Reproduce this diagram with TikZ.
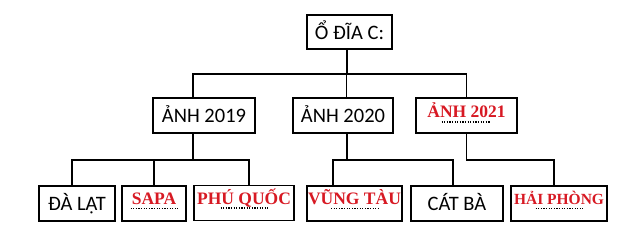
\documentclass[tikz,border=0pt]{standalone}
\usepackage{fontspec}
\setmainfont{Carlito}
\newfontfamily\redserif{Liberation Serif}
\usepackage{xcolor}
\usetikzlibrary{positioning}
\definecolor{typored}{RGB}{215,25,35}
\tikzstyle{folder} = [rectangle, draw=black, line width=1.6pt, minimum height=35pt, inner sep=0pt, text height=14.5pt, text depth=0pt, font=\fontsize{20.5}{22}\selectfont]
\tikzstyle{redfolder} = [folder, text height=8pt, text depth=4.6pt, font=\fontsize{17.5}{19}\redserif\bfseries, text=typored]
\tikzstyle{link} = [line width=1.6pt]
\tikzstyle{dotrule} = [line width=1.3pt, dash pattern=on 1.2pt off 1.4pt]

\begin{document}
\begin{tikzpicture}[x=1pt, y=-1pt]
  \useasboundingbox (0,0) rectangle (637,232);
  \node (root) [folder, minimum width=85pt, minimum height=34pt] at (349.5,32) {Ổ ĐĨA C:};
  % level 2
  \node (a19) [folder, minimum width=102pt] at (204,115.5) {ẢNH 2019};
  \node (a20) [folder, minimum width=100pt] at (343,115.5) {ẢNH 2020};
  \node (a21) [redfolder, minimum width=101pt] at (466.5,115.5) {ẢNH 2021};
  % level 3
  \node (dalat) [folder, minimum width=76pt] at (77,203.5) {ĐÀ LẠT};
  \node (sapa) [redfolder, text depth=5.2pt, minimum width=64pt] at (154,203.5) {SAPA};
  \node (phuquoc) [redfolder, text depth=5.2pt, minimum width=100pt] at (244,203) {PHÚ QUỐC};
  \node (vungtau) [redfolder, text depth=5.2pt, minimum width=95pt] at (354.5,203.5) {VŨNG TÀU};
  \node (catba) [folder, minimum width=92pt] at (457,203.5) {CÁT BÀ};
  \node (haiphong) [redfolder, text depth=5.2pt, minimum width=96pt, font=\fontsize{15.5}{17}\redserif\bfseries] at (559,203.5) {HẢI PHÒNG};
  % connectors
  \draw[link] ([xshift=-2.5pt]root.south) -- ++(0,24) coordinate (j0);
  \draw[link] ([xshift=-11pt]a19.north) |- (j0) -| (a21.north);
  \draw[link] ([xshift=3.5pt]a20.north) |- (j0);
  \draw[link] ([xshift=-11pt]a19.south) -- ++(0,26) coordinate (j1);
  \draw[link] ([xshift=-5pt]dalat.north) |- (j1) -| ([xshift=5pt]phuquoc.north);
  \draw[link] (sapa.north) |- (j1);
  \draw[link] ([xshift=4pt]a20.south) -- ++(0,26) coordinate (j2);
  \draw[link] ([xshift=-21.5pt]vungtau.north) |- (j2) -| ([xshift=-4pt]catba.north);
  \draw[link] (a21.south) |- ([xshift=-5pt]haiphong.north |- j2) -- ([xshift=-5pt]haiphong.north);
  % dotted marks under the red words
  \draw[dotrule] ([xshift=-25pt,yshift=-6.5pt]a21.center) -- ++(48,0);
  \foreach \n in {sapa, phuquoc, vungtau, haiphong}
    \draw[dotrule] ([xshift=-23.5pt,yshift=-5pt]\n.center) -- ++(47,0);
\end{tikzpicture}
\end{document}
